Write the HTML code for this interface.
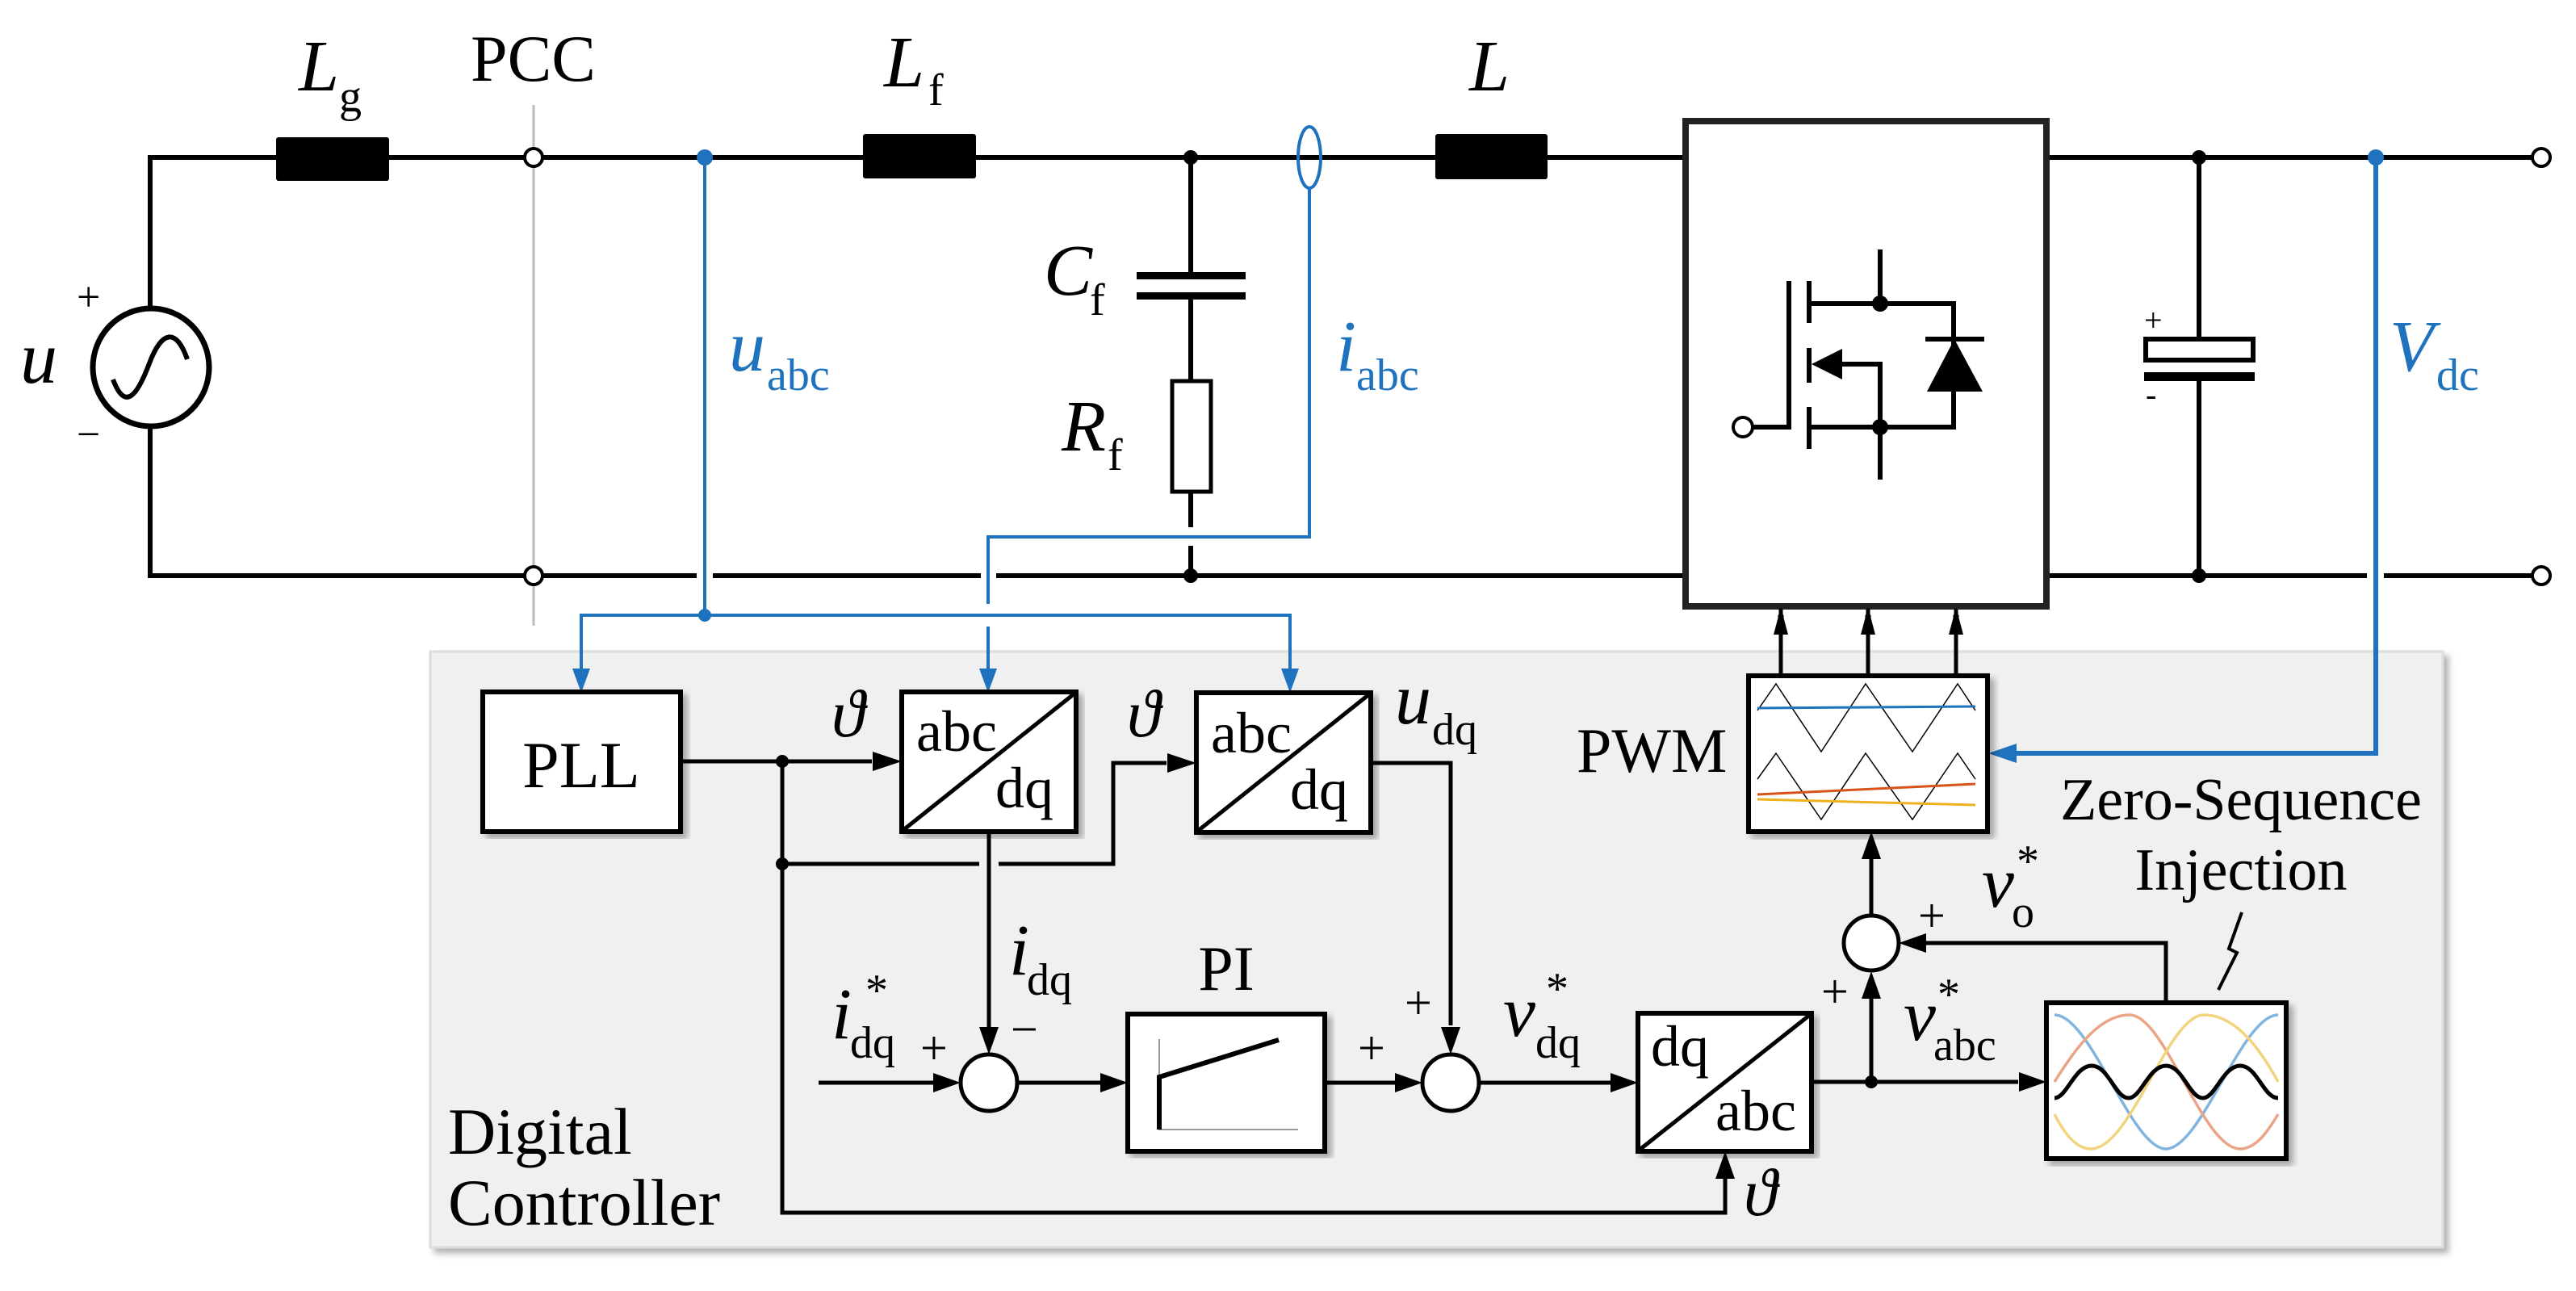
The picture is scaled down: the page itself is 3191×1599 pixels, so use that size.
<!DOCTYPE html>
<html><head><meta charset="utf-8"><style>
html,body{margin:0;padding:0;background:#fff;}
svg{display:block;}
text{font-family:"Liberation Serif",serif;fill:#000;}
.it{font-style:italic;}
.b{fill:#1f72bd;}
</style></head><body>
<svg width="3191" height="1599" viewBox="0 0 3191 1599" xmlns="http://www.w3.org/2000/svg">
<defs>
<marker id="ak" markerWidth="10" markerHeight="8" refX="10" refY="4" orient="auto" markerUnits="userSpaceOnUse" viewBox="0 0 10 8"><path d="M0,0 L10,4 L0,8 Z" fill="#000"/></marker>
<filter id="sh" x="-5%" y="-5%" width="110%" height="110%"><feDropShadow dx="6" dy="6" stdDeviation="4" flood-color="#000" flood-opacity="0.3"/></filter>
</defs>
<style>
.w{stroke:#000;stroke-width:6;fill:none;}
.bl{stroke:#1f72bd;stroke-width:4;fill:none;}
.bx{stroke:#000;stroke-width:6;fill:#fff;}
</style>

<!-- controller background -->
<rect x="533" y="807" width="2493" height="738" fill="#eff0ef" stroke="#ddd" stroke-width="3" filter="url(#sh)"/>

<!-- PCC line -->
<line x1="661" y1="130" x2="661" y2="775" stroke="#bbb" stroke-width="3"/>

<!-- power circuit wires -->
<path class="w" d="M186,380 L186,195 L342,195 M482,195 L654,195 M668,195 L1069,195 M1209,195 L1778,195 M1917,195 L2088,195 M2535,195 L3140,195"/>
<path class="w" d="M186,525 L186,713 L654,713 M668,713 L863,713 M883,713 L1215,713 M1234,713 L2088,713 M2535,713 L2932,713 M2953,713 L3140,713"/>
<!-- source -->
<ellipse cx="187" cy="455" rx="72" ry="73" fill="#fff" stroke="#000" stroke-width="7"/>
<path d="M140,470 C155,510 170,490 185,450 C200,410 218,405 232,445" fill="none" stroke="#000" stroke-width="6"/>
<text x="95" y="385" font-size="52">+</text>
<text x="95" y="555" font-size="52">−</text>
<text x="25" y="474" font-size="92" class="it">u</text>
<!-- inductors -->
<rect x="342" y="170" width="140" height="54" rx="3" fill="#000"/>
<rect x="1069" y="166" width="140" height="55" rx="3" fill="#000"/>
<rect x="1778" y="166" width="139" height="56" rx="3" fill="#000"/>
<!-- terminals -->
<circle cx="661" cy="195" r="11" fill="#fff" stroke="#000" stroke-width="4"/>
<circle cx="661" cy="713" r="11" fill="#fff" stroke="#000" stroke-width="4"/>
<circle cx="3148" cy="195" r="11" fill="#fff" stroke="#000" stroke-width="4"/>
<circle cx="3148" cy="713" r="11" fill="#fff" stroke="#000" stroke-width="4"/>
<!-- labels top -->
<text x="370" y="112" font-size="90" class="it">L</text><text x="420" y="138" font-size="56">g</text>
<text x="583" y="100" font-size="82">PCC</text>
<text x="1095" y="107" font-size="90" class="it">L</text><text x="1150" y="130" font-size="56">f</text>
<text x="1820" y="112" font-size="90" class="it">L</text>
<!-- filter branch -->
<path class="w" d="M1475,195 L1475,341 M1475,366 L1475,472 M1475,609 L1475,653 M1475,676 L1475,713"/>
<rect x="1408" y="337" width="135" height="9" fill="#000"/>
<rect x="1408" y="362" width="135" height="9" fill="#000"/>
<rect x="1452" y="472" width="48" height="137" fill="#fff" stroke="#000" stroke-width="5"/>
<circle cx="1475" cy="195" r="9"/><circle cx="1475" cy="713" r="9"/>
<text x="1293" y="365" font-size="90" class="it">C</text><text x="1350" y="390" font-size="56">f</text>
<text x="1315" y="558" font-size="90" class="it">R</text><text x="1372" y="582" font-size="56">f</text>

<!-- converter -->
<rect x="2088" y="150" width="447" height="601" fill="#fff" stroke="#222" stroke-width="8"/>
<!-- mosfet -->
<circle cx="2159" cy="529" r="12" fill="#fff" stroke="#000" stroke-width="4"/>
<path class="w" d="M2171,529 L2216,529 L2216,348"/>
<path class="w" d="M2241,348 L2241,400 M2241,431 L2241,474 M2241,504 L2241,556"/>
<path class="w" d="M2241,376 L2420,376 L2420,529 L2241,529 M2329,309 L2329,376 M2329,529 L2329,594 M2250,451 L2329,451 L2329,529"/>
<path d="M2244,451 L2282,432 L2282,470 Z" fill="#000"/>
<circle cx="2329" cy="376" r="10"/><circle cx="2329" cy="529" r="10"/>
<path d="M2387,485 L2456,485 L2421,420 Z" fill="#000"/>
<line x1="2385" y1="420" x2="2458" y2="420" stroke="#000" stroke-width="6"/>
<!-- dc cap -->
<path class="w" d="M2724,195 L2724,420 M2724,471 L2724,713"/>
<rect x="2658" y="420" width="133" height="26" fill="#fff" stroke="#000" stroke-width="6"/>
<rect x="2656" y="461" width="137" height="11" fill="#000"/>
<circle cx="2724" cy="195" r="9"/><circle cx="2724" cy="713" r="9"/>
<text x="2656" y="410" font-size="40">+</text>
<text x="2658" y="502" font-size="40">-</text>

<!-- blue measurement lines -->
<circle cx="873" cy="195" r="10" fill="#1f72bd"/>
<line class="bl" x1="873" y1="195" x2="873" y2="762"/>
<circle cx="873" cy="762" r="8" fill="#1f72bd"/>
<text x="903" y="459" font-size="90" class="it b">u</text><text x="950" y="483" font-size="56" class="b">abc</text>
<ellipse cx="1622" cy="195" rx="14" ry="38" fill="none" stroke="#1f72bd" stroke-width="4"/>
<path class="bl" d="M1622,233 L1622,665 L1224,665 L1224,748 M1224,776 L1224,830"/>
<text x="1655" y="459" font-size="90" class="it b">i</text><text x="1680" y="483" font-size="56" class="b">abc</text>
<path class="bl" d="M720,830 L720,762 L1598,762 L1598,830"/>
<path d="M709,828 L731,828 L720,858 Z" fill="#1f72bd"/>
<path d="M1213,828 L1235,828 L1224,858 Z" fill="#1f72bd"/>
<path d="M1587,828 L1609,828 L1598,858 Z" fill="#1f72bd"/>
<circle cx="2943" cy="195" r="10" fill="#1f72bd"/>
<path d="M2943,195 L2943,933 L2495,933" fill="none" stroke="#1f72bd" stroke-width="6"/>
<path d="M2463,933 L2498,921 L2498,945 Z" fill="#1f72bd"/>
<text x="2960" y="459" font-size="90" class="it b">V</text><text x="3018" y="483" font-size="56" class="b">dc</text>

<!-- PWM arrows up -->
<g stroke="#000" stroke-width="5" marker-end="url(#ak)">
<line x1="2206" y1="837" x2="2206" y2="754"/>
<line x1="2314" y1="837" x2="2314" y2="754"/>
<line x1="2423" y1="837" x2="2423" y2="754"/>
</g>
<g fill="#000"><path d="M2197,786 L2215,786 L2206,752 Z"/><path d="M2305,786 L2323,786 L2314,752 Z"/><path d="M2414,786 L2432,786 L2423,752 Z"/></g>

<!-- controller blocks -->
<rect class="bx" x="598" y="857" width="245" height="173" filter="url(#sh)"/>
<text x="720" y="975" font-size="82" text-anchor="middle">PLL</text>
<rect class="bx" x="1117" y="857" width="216" height="173" filter="url(#sh)"/>
<line x1="1119" y1="1028" x2="1331" y2="859" stroke="#000" stroke-width="5"/>
<text x="1135" y="930" font-size="72">abc</text><text x="1233" y="1000" font-size="72">dq</text>
<rect class="bx" x="1482" y="858" width="216" height="173" filter="url(#sh)"/>
<line x1="1484" y1="1029" x2="1696" y2="860" stroke="#000" stroke-width="5"/>
<text x="1500" y="932" font-size="72">abc</text><text x="1598" y="1002" font-size="72">dq</text>

<!-- PLL theta lines -->
<path class="w" d="M843,943 L1080,943 M969,943 L969,1502 L2137,1502 L2137,1460 M969,1070 L1213,1070 M1237,1070 L1379,1070 L1379,945 L1445,945" style="stroke-width:5"/>
<circle cx="969" cy="943" r="8"/><circle cx="969" cy="1070" r="8"/>
<path d="M1117,943 L1081,931 L1081,955 Z"/>
<path d="M1482,945 L1446,933 L1446,957 Z"/>
<text x="1030" y="912" font-size="84" class="it">ϑ</text>
<text x="1396" y="912" font-size="84" class="it">ϑ</text>
<text x="1728" y="896" font-size="90" class="it">u</text><text x="1774" y="922" font-size="56">dq</text>

<!-- current loop -->
<path class="w" style="stroke-width:5" d="M1225,1030 L1225,1280 M1014,1341 L1160,1341 M1260,1341 L1365,1341 M1641,1341 L1730,1341 M1698,945 L1797,945 L1797,1270 M1832,1341 L1995,1341"/>
<path d="M1225,1306 L1213,1272 L1237,1272 Z"/>
<path d="M1190,1341 L1156,1329 L1156,1353 Z"/>
<path d="M1397,1341 L1363,1329 L1363,1353 Z"/>
<path d="M1762,1341 L1728,1329 L1728,1353 Z"/>
<path d="M1797,1306 L1785,1272 L1809,1272 Z"/>
<path d="M2029,1341 L1995,1329 L1995,1353 Z"/>
<circle cx="1225" cy="1341" r="35" fill="#fff" stroke="#000" stroke-width="5"/>
<circle cx="1797" cy="1341" r="35" fill="#fff" stroke="#000" stroke-width="5"/>
<text x="1250" y="1207" font-size="90" class="it">i</text><text x="1272" y="1232" font-size="56">dq</text>
<text x="1030" y="1286" font-size="90" class="it">i</text><text x="1053" y="1310" font-size="56">dq</text><text x="1072" y="1245" font-size="56">*</text>
<text x="1140" y="1318" font-size="60">+</text>
<text x="1252" y="1295" font-size="60">−</text>
<text x="1682" y="1318" font-size="60">+</text>
<text x="1740" y="1262" font-size="60">+</text>
<text x="1862" y="1283" font-size="90" class="it">v</text><text x="1902" y="1310" font-size="56">dq</text><text x="1915" y="1243" font-size="56">*</text>
<!-- PI -->
<rect class="bx" x="1397" y="1256" width="244" height="170" filter="url(#sh)"/>
<text x="1519" y="1226" font-size="78" text-anchor="middle">PI</text>
<path d="M1436,1287 L1436,1399 L1608,1399" fill="none" stroke="#999" stroke-width="2"/>
<path d="M1436,1399 L1436,1334 L1584,1288" fill="none" stroke="#000" stroke-width="6"/>

<!-- dq/abc -->
<rect class="bx" x="2029" y="1255" width="215" height="171" filter="url(#sh)"/>
<line x1="2031" y1="1424" x2="2242" y2="1257" stroke="#000" stroke-width="5"/>
<text x="2045" y="1320" font-size="72">dq</text><text x="2125" y="1400" font-size="72">abc</text>
<path d="M2137,1426 L2125,1460 L2149,1460 Z"/>
<text x="2160" y="1505" font-size="84" class="it">ϑ</text>
<path class="w" style="stroke-width:5" d="M2244,1340 L2500,1340 M2318,1340 L2318,1236 M2318,1133 L2318,1064 M2683,1242 L2683,1168 L2386,1168"/>
<circle cx="2318" cy="1340" r="8"/>
<path d="M2535,1340 L2501,1328 L2501,1352 Z"/>
<path d="M2318,1203 L2306,1237 L2330,1237 Z"/>
<path d="M2318,1030 L2306,1064 L2330,1064 Z"/>
<path d="M2352,1168 L2386,1156 L2386,1180 Z"/>
<circle cx="2318" cy="1168" r="34" fill="#fff" stroke="#000" stroke-width="5"/>
<text x="2376" y="1154" font-size="60">+</text>
<text x="2256" y="1248" font-size="60">+</text>
<text x="2455" y="1123" font-size="90" class="it">v</text><text x="2492" y="1148" font-size="56">o</text><text x="2498" y="1085" font-size="56">*</text>
<text x="2358" y="1288" font-size="90" class="it">v</text><text x="2395" y="1313" font-size="56">abc</text><text x="2400" y="1250" font-size="56">*</text>
<text x="2776" y="1015" font-size="74" text-anchor="middle">Zero-Sequence</text>
<text x="2776" y="1102" font-size="74" text-anchor="middle">Injection</text>
<path d="M2777,1130 L2761,1175 L2771,1180 L2748,1226" fill="none" stroke="#000" stroke-width="4"/>

<!-- PWM box -->
<rect class="bx" x="2166" y="837" width="296" height="193" filter="url(#sh)"/>
<text x="1953" y="956" font-size="78">PWM</text>
<polyline points="2177,880 2200,847 2256,931 2311,847 2369,931 2425,847 2447,880" fill="none" stroke="#000" stroke-width="1.5"/>
<line x1="2177" y1="877" x2="2447" y2="875" stroke="#1f72bd" stroke-width="3"/>
<polyline points="2177,965 2200,933 2256,1015 2311,933 2369,1015 2425,933 2447,965" fill="none" stroke="#000" stroke-width="1.5"/>
<line x1="2177" y1="984" x2="2447" y2="971" stroke="#d95319" stroke-width="3"/>
<line x1="2177" y1="990" x2="2447" y2="997" stroke="#edb120" stroke-width="3"/>

<!-- sine box -->
<rect class="bx" x="2535" y="1242" width="297" height="193" filter="url(#sh)"/>
<path d="M2545,1257 C2590,1257 2640,1423 2683,1423 C2727,1423 2777,1257 2822,1257" fill="none" stroke="#7fb5e0" stroke-width="3.5"/>
<path d="M2545,1340 C2570,1300 2600,1257 2638,1257 C2682,1257 2728,1423 2775,1423 C2795,1423 2810,1400 2822,1380" fill="none" stroke="#eaa587" stroke-width="3.5"/>
<path d="M2545,1380 C2560,1410 2575,1423 2590,1423 C2640,1423 2685,1257 2730,1257 C2770,1257 2800,1300 2822,1340" fill="none" stroke="#f3d37e" stroke-width="3.5"/>
<path d="M2545,1360 C2560,1360 2570,1320 2591,1320 C2612,1320 2620,1360 2637,1360 C2652,1360 2662,1320 2683,1320 C2704,1320 2712,1360 2729,1360 C2744,1360 2754,1320 2775,1320 C2796,1320 2804,1360 2822,1360" fill="none" stroke="#000" stroke-width="5"/>

<!-- Digital Controller -->
<text x="555" y="1429" font-size="82">Digital</text>
<text x="555" y="1517" font-size="82">Controller</text>
</svg>
</body></html>
